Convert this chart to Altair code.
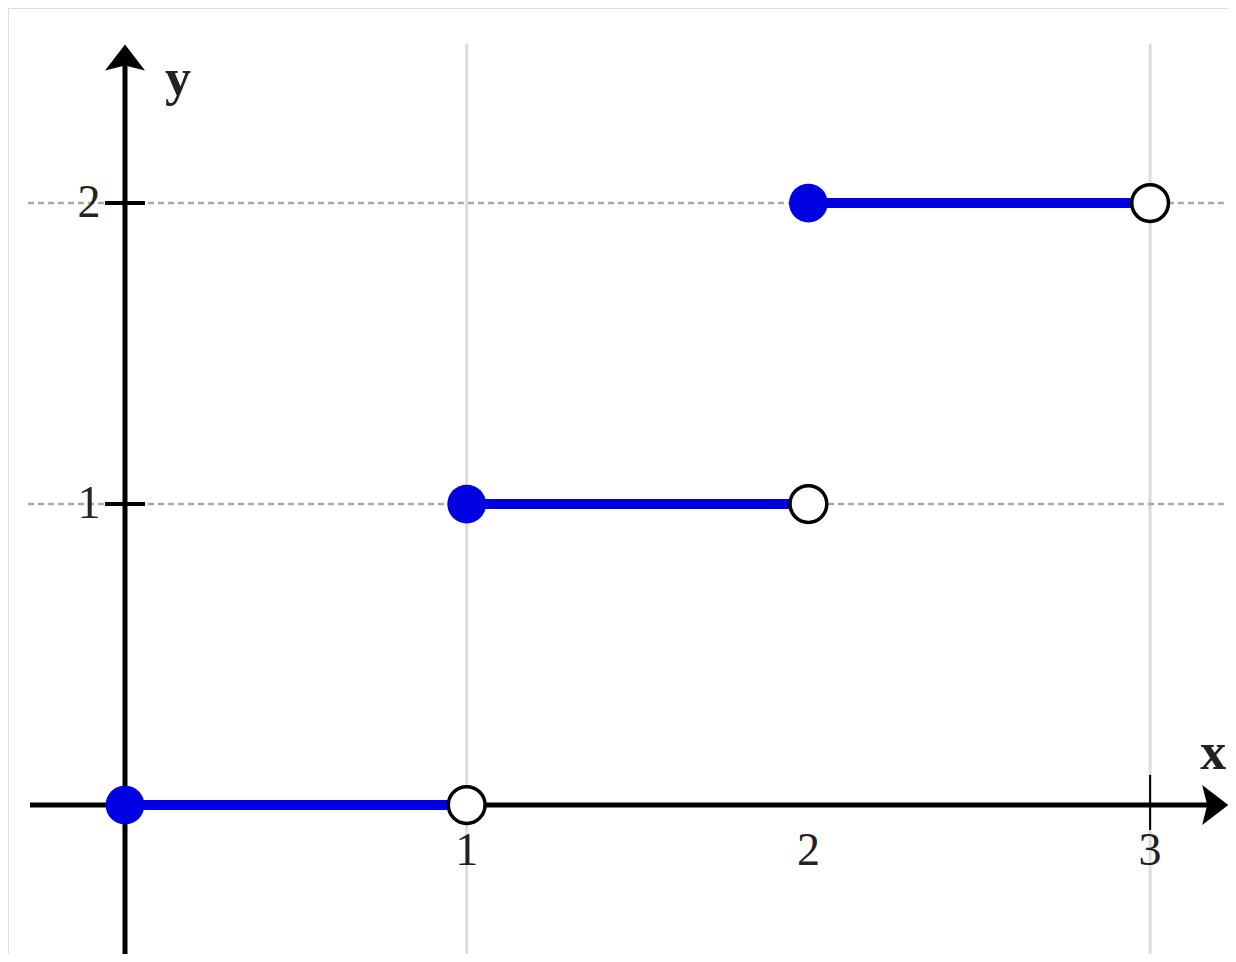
import altair as alt
import pandas as pd

# ---- data ----
seg_x_start = [0, 1, 2]
seg_x_end = [1, 2, 3]
seg_y = [0, 1, 2]

x_tick_vals = [1, 2, 3]
x_tick_labels = ["1", "2", "3"]
y_tick_vals = [1, 2]
y_tick_labels = ["1", "2"]

grid_x = [1, 3]            # light vertical grid lines
grid_y = [1, 2]            # dotted horizontal grid lines
marked_x_ticks = [3]       # small tick drawn on x axis

x_domain = [-0.3424, 3.228]
y_domain = [-0.495, 2.648]
x_axis_span = [-0.278, 3.17]
y_axis_span = [-0.6, 2.46]
hgrid_span = [-0.284, 3.26]
vgrid_span = [-0.6, 2.53]

W, H = 1220, 946
BLUE = "#0000e0"
SERIF = "Liberation Serif"

xs = alt.Scale(domain=x_domain, nice=False, zero=False)
ys = alt.Scale(domain=y_domain, nice=False, zero=False)

segs = pd.DataFrame({"x": seg_x_start, "x2": seg_x_end, "y": seg_y})
vgrid = pd.DataFrame({"x": grid_x, "y": [vgrid_span[0]] * len(grid_x), "y2": [vgrid_span[1]] * len(grid_x)})
hgrid = pd.DataFrame({"y": grid_y, "x": [hgrid_span[0]] * len(grid_y), "x2": [hgrid_span[1]] * len(grid_y)})
xaxis = pd.DataFrame({"x": [x_axis_span[0]], "x2": [x_axis_span[1]], "y": [0]})
yaxis = pd.DataFrame({"y": [y_axis_span[0]], "y2": [y_axis_span[1]], "x": [0]})
ytick = pd.DataFrame({"y": y_tick_vals, "x": [-0.0585] * len(y_tick_vals), "x2": [0.0585] * len(y_tick_vals)})
xtick = pd.DataFrame({"x": marked_x_ticks, "y": [-0.083] * len(marked_x_ticks), "y2": [0.1] * len(marked_x_ticks)})
xlab = pd.DataFrame({"x": x_tick_vals, "y": [0] * len(x_tick_vals), "t": x_tick_labels})
ylab = pd.DataFrame({"y": y_tick_vals, "x": [0] * len(y_tick_vals), "t": y_tick_labels})
yarrow = pd.DataFrame({"x": [0], "y": [y_axis_span[1]]})
xarrow = pd.DataFrame({"x": [x_axis_span[1]], "y": [0]})

X = lambda f="x": alt.X(f"{f}:Q", scale=xs, axis=None)
Y = lambda f="y": alt.Y(f"{f}:Q", scale=ys, axis=None)

vg = alt.Chart(vgrid).mark_rule(color="#dcdcdc", strokeWidth=3).encode(x=X(), y=Y(), y2="y2:Q")
hg = alt.Chart(hgrid).mark_rule(color="#a8a8a8", strokeWidth=2.5, strokeDash=[6, 4]).encode(x=X(), x2="x2:Q", y=Y())
xa = alt.Chart(xaxis).mark_rule(color="black", strokeWidth=5).encode(x=X(), x2="x2:Q", y=Y())
ya = alt.Chart(yaxis).mark_rule(color="black", strokeWidth=5).encode(y=Y(), y2="y2:Q", x=X())
yt = alt.Chart(ytick).mark_rule(color="black", strokeWidth=4).encode(x=X(), x2="x2:Q", y=Y())
xt = alt.Chart(xtick).mark_rule(color="black", strokeWidth=2).encode(x=X(), y=Y(), y2="y2:Q")

arrow_path = "M0,-1 L1,0.3 L0,0.05 L-1,0.3 Z"
ya_head = alt.Chart(yarrow).mark_point(shape=arrow_path, size=1600, filled=True, color="black", opacity=1).encode(x=X(), y=Y())
xa_head = alt.Chart(xarrow).mark_point(shape=arrow_path, size=1600, filled=True, color="black", opacity=1, angle=90).encode(x=X(), y=Y())

lines = alt.Chart(segs).mark_rule(color=BLUE, strokeWidth=10).encode(x=X(), x2="x2:Q", y=Y())
closed = alt.Chart(segs).mark_point(shape="circle", size=1500, filled=True, color=BLUE, opacity=1).encode(x=X(), y=Y())
opened = alt.Chart(segs).mark_point(shape="circle", size=1350, filled=True, fill="white", stroke="black",
                                    strokeWidth=3.5, opacity=1).encode(x=X("x2"), y=Y())

xl = alt.Chart(xlab).mark_text(font=SERIF, fontSize=46, color="#222222", dy=46, baseline="middle", align="center").encode(
    x=X(), y=Y(), text="t:N")
yl = alt.Chart(ylab).mark_text(font=SERIF, fontSize=46, color="#222222", dx=-36, baseline="middle", align="center").encode(
    x=X(), y=Y(), text="t:N")
ylbl = alt.Chart(yarrow.assign(t="y")).mark_text(font=SERIF, fontSize=52, fontWeight="bold", color="#222222",
                                                   dx=53, dy=14, baseline="middle", align="center").encode(
    x=X(), y=Y(), text="t:N")
xlbl = alt.Chart(xarrow.assign(t="x")).mark_text(font=SERIF, fontSize=52, fontWeight="bold", color="#222222",
                                                   dx=5, dy=-52, baseline="middle", align="center").encode(
    x=X(), y=Y(), text="t:N")

chart = alt.layer(vg, hg, xa, ya, yt, xt, ya_head, xa_head, lines, closed, opened, xl, yl, ylbl, xlbl).properties(
    width=W, height=H, autosize=alt.AutoSizeParams(type="none"), padding=0
).configure_view(stroke=None).configure(background="white")

chart.save("out.html", embed_options={"renderer": "svg", "actions": False})
